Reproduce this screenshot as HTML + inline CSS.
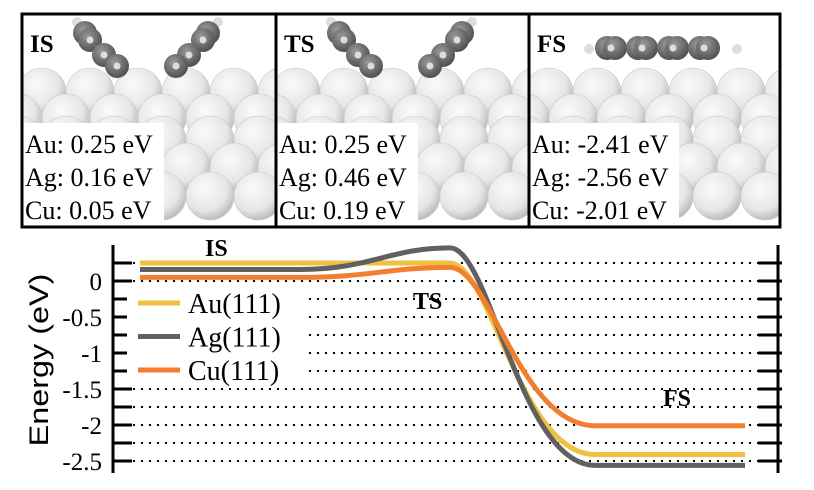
<!DOCTYPE html>
<html><head><meta charset="utf-8"><style>
html,body{margin:0;padding:0;background:#fff;width:814px;height:490px;overflow:hidden}
svg{display:block}
text{font-family:"Liberation Serif",serif}
</style></head><body>
<svg width="814" height="490" viewBox="0 0 814 490">
<defs>
<radialGradient id="sph" cx="40%" cy="35%" r="65%">
<stop offset="0" stop-color="#fbfbfb"/><stop offset="0.7" stop-color="#e6e6e6"/><stop offset="1" stop-color="#bdbdbd"/>
</radialGradient>
<radialGradient id="mol" cx="40%" cy="35%" r="65%">
<stop offset="0" stop-color="#9a9a9a"/><stop offset="1" stop-color="#505050"/>
</radialGradient>
<clipPath id="c0"><rect x="22" y="14" width="254" height="213"/></clipPath>
<clipPath id="c1"><rect x="276" y="14" width="253" height="213"/></clipPath>
<clipPath id="c2"><rect x="529" y="14" width="251" height="213"/></clipPath>
</defs>
<g id="panels"></g>
<g id="chart"></g>
</svg>
<script>
const NS='http://www.w3.org/2000/svg';
function mk(tag,attrs,parent){const e=document.createElementNS(NS,tag);for(const k in attrs)e.setAttribute(k,attrs[k]);parent.appendChild(e);return e;}
function txt(parent,s,x,y,size,sx,extra){const a={x:0,y:0,'font-size':size,fill:'#000',transform:`translate(${x},${y}) scale(${sx},1)`};for(const k in (extra||{}))a[k]=extra[k];const t=mk('text',a,parent);t.textContent=s;return t;}
// ---- data ----
const states=['IS','TS','FS'];
const seriesNames=['Au(111)','Ag(111)','Cu(111)'];
const auE=[0.25,0.25,-2.41];
const agE=[0.16,0.46,-2.56];
const cuE=[0.05,0.19,-2.01];
const yTicks=[0,-0.5,-1,-1.5,-2,-2.5];
const yTickLabels=['0','-0.5','-1','-1.5','-2','-2.5'];
const colors=['#f0c040','#606060','#f08030'];

// ---- panels ----
const panels=document.getElementById('panels');
const px=[22,276,529,780];
const allE=[auE,agE,cuE];
for(let p=0;p<3;p++){
  const g=mk('g',{'clip-path':'url(#c'+p+')'},panels);
  
  
  const x0=px[p];
  mk('rect',{x:x0,y:14,width:px[p+1]-x0,height:213,fill:'#fff'},g);
  const rows=[[92,0],[118,-24],[140,24],[167,0],[196,24]];
  rows.forEach((r,i)=>{for(let k=-1;k<7;k++){mk('circle',{cx:x0+r[1]+k*48+20,cy:r[0],r:24,fill:'url(#sph)',stroke:'#c8c8c8','stroke-width':0.6},g);}});
  const mg=mk('g',{},g);
  
  
  if(p<2){
    mk('circle',{cx:x0+55,cy:22,r:5,fill:'#ddd'},mg);mk('circle',{cx:x0+196,cy:22,r:5,fill:'#ddd'},mg);
    const L=[[63,33],[68,40],[82,55],[95,66]], R=[[186,33],[181,40],[167,55],[154,66]];
    L.concat(R).forEach(q=>{mk('circle',{cx:x0+q[0],cy:q[1],r:12,fill:'url(#mol)'},mg);mk('circle',{cx:x0+q[0],cy:q[1],r:3.5,fill:'#ddd'},mg);});
  } else {
    mk('circle',{cx:x0+60,cy:49,r:5,fill:'#ddd'},mg);mk('circle',{cx:x0+208,cy:49,r:5,fill:'#ddd'},mg);
    for(let k=0;k<4;k++){const cx=x0+78+k*31;mk('circle',{cx:cx,cy:48,r:12,fill:'url(#mol)'},mg);mk('circle',{cx:cx+8,cy:48,r:12,fill:'url(#mol)'},mg);mk('circle',{cx:cx+4,cy:48,r:3.5,fill:'#ddd'},mg);}
  }
  const lab=txt(g,states[p],x0+8,52,25,1.0,{'font-weight':'bold'});
  
  
  mk('rect',{x:x0,y:123,width:p==2?150:142,height:104,fill:'#fff'},g);
  const el=['Au','Ag','Cu'];
  for(let s=0;s<3;s++){
    const t=txt(g,el[s]+': '+allE[s][p].toFixed(2)+' eV',x0+3,153+s*33,26,1.0);
    
    
  }
}
for(let p=0;p<3;p++){
  const b=mk('rect',{x:px[p],y:14,width:px[p+1]-px[p],height:213,fill:'none',stroke:'#000','stroke-width':3},panels);
  
  
}

// ---- chart ----
const ch=document.getElementById('chart');
const Y=v=>281-v*72;
const xL=113,xR=778;
for(let v=0.25;v>=-2.51;v-=0.25){
  const gl=mk('line',{x1:125,x2:768,y1:Y(v),y2:Y(v),stroke:'#000','stroke-width':2,'stroke-dasharray':'2 6'},ch);
  
  
  mk('line',{x1:xL,x2:xL+19,y1:Y(v),y2:Y(v),stroke:'#000','stroke-width':3},ch);
  mk('line',{x1:xR-20,x2:xR+4,y1:Y(v),y2:Y(v),stroke:'#000','stroke-width':3},ch);
}
const ax1=mk('line',{x1:xL,x2:xL,y1:245,y2:473,stroke:'#000','stroke-width':3},ch);

const ax2=mk('line',{x1:xR,x2:xR,y1:245,y2:473,stroke:'#000','stroke-width':3},ch);

yTicks.forEach((v,i)=>{const t=txt(ch,yTickLabels[i],102,Y(v)+9,25,1.0,{'text-anchor':'end'});
});
const yt=mk('text',{x:0,y:0,'font-size':27,'text-anchor':'middle',fill:'#000',transform:'translate(48,360) rotate(-90) scale(1.2,1)',style:'font-family:"Liberation Sans",sans-serif'},ch);
yt.textContent='Energy (eV)';
mk('rect',{x:127,y:290,width:178,height:96,fill:'#fff'},ch);
const xs=[140,300,450,460,595,745];
[auE,agE,cuE].forEach((e,i)=>{
  const d=`M${xs[0]},${Y(e[0])} L${xs[1]},${Y(e[0])} C${xs[1]+70},${Y(e[0])} ${xs[2]-60},${Y(e[1])} ${xs[2]},${Y(e[1])} C${xs[2]+40},${Y(e[1])} ${xs[4]-75},${Y(e[2])} ${xs[4]},${Y(e[2])} L${xs[5]},${Y(e[2])}`;
  const p=mk('path',{d:d,fill:'none',stroke:colors[i],'stroke-width':5},ch);
  
  
});
seriesNames.forEach((n,i)=>{
  const yy=303+i*33.5;
  const l=mk('line',{x1:138,x2:180,y1:yy,y2:yy,stroke:colors[i],'stroke-width':5},ch);
  
  const t=txt(ch,n,188,yy+10,28,1.0);
  
});
[['IS',205,256],['TS',413,309],['FS',663,406]].forEach(a=>{
  const t=txt(ch,a[0],a[1],a[2],24,1.0,{'font-weight':'bold'});
  
});
</script>
</body></html>
